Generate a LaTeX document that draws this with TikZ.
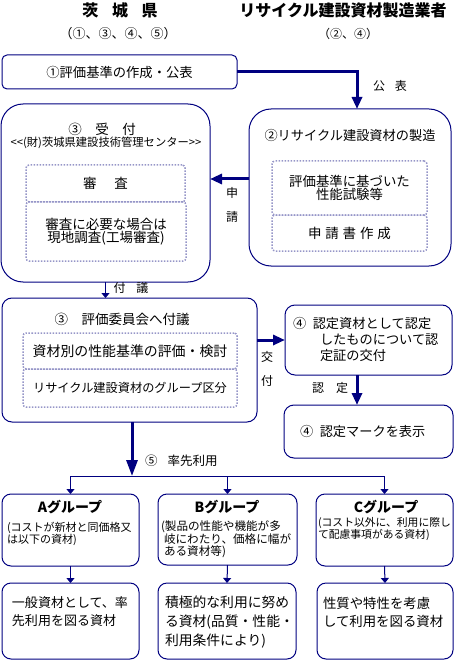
\documentclass[tikz,border=0pt]{standalone}
\usepackage{fontspec}
\setmainfont{Noto Sans CJK JP}
\usetikzlibrary{arrows.meta,calc}
\definecolor{navy}{RGB}{0,0,128}
\definecolor{dotc}{RGB}{150,150,200}
\newcommand{\jfs}[2]{\fontsize{#1pt}{#2pt}\selectfont}
\begin{document}
\begin{tikzpicture}[x=1pt,y=-1pt,
  box/.style={draw=navy, line width=1pt, rounded corners=#1, anchor=north west, inner sep=0pt, outer sep=0pt, align=center},
  box/.default=8pt,
  dbox/.style={draw=dotc, line width=1.5pt, dash pattern=on 1.5pt off 1.5pt, rounded corners=3pt, anchor=north west, inner sep=0pt, outer sep=0pt, align=center},
  txt/.style={inner sep=0pt, outer sep=0pt, text=black},
  bigarrow/.style={draw=navy, line width=3pt, -{Triangle[length=12pt,width=10pt]}},
  thinarrow/.style={draw=navy, line width=1pt, -{Triangle[length=5pt,width=8pt]}},
  thinline/.style={draw=navy, line width=1pt},
]
\useasboundingbox (0,0) rectangle (455,660);
% headers
\node[txt, font={\jfs{16}{16}\bfseries}] (h1) at (120,10) {茨\hspace{0.85em}城\hspace{0.85em}県};
\node[txt, font={\jfs{13}{13}}] (h1s) at (118,34) {（①、③、④、⑤）};
\node[txt, font={\jfs{16}{16}\bfseries}] (h2) at (343,10) {リサイクル建設資材製造業者};
\node[txt, font={\jfs{12}{12}}] (h2s) at (348,34) {（②、④）};
% box 1
\node[box=5pt, minimum width=235pt, minimum height=34pt, font={\jfs{13.3}{14}}] (b1) at (2,55) {①評価基準の作成・公表};
% box 3 (reception)
\node[box=22pt, minimum width=209pt, minimum height=178pt] (b3) at (1,104) {};
\node[txt, font={\jfs{13.5}{14}}] (t3) at (102,129) {③\quad 受\quad 付};
\node[txt, font={\jfs{11.3}{12}}] (t3s) at (106,143) {<\kern0pt<(財)茨城県建設技術管理センター>\kern0pt>};
\node[dbox, minimum width=159pt, minimum height=37pt, font={\jfs{13.5}{14}}] (d1) at (26,165) {審\hspace{1.3em}査};
\node[dbox, minimum width=160pt, minimum height=59pt, font={\jfs{13.5}{13.5}}] (d2) at (26,202) {審査に必要な場合は\\現地調査(工場審査)};
% box 2 (manufacturing)
\node[box=22pt, minimum width=202pt, minimum height=157pt] (b2) at (249,109) {};
\node[txt, font={\jfs{13.2}{14}}] (t2) at (350,135) {②リサイクル建設資材の製造};
\node[dbox, minimum width=155pt, minimum height=54pt, font={\jfs{13.4}{13.5}}] (d3) at (272,161) {評価基準に基づいた\\性能試験等};
\node[dbox, minimum width=155pt, minimum height=36pt, font={\jfs{13.5}{14}}] (d4) at (272,215) {申\hspace{.28em}請\hspace{.28em}書\hspace{.28em}作\hspace{.28em}成};
% box 4 (committee)
\node[box=10pt, minimum width=255pt, minimum height=124pt] (b4) at (2,298) {};
\node[txt, font={\jfs{13.5}{14}}] (t4) at (122,319) {③\quad 評価委員会へ付議};
\node[dbox, minimum width=214pt, minimum height=36pt, font={\jfs{13.9}{14}}] (d5) at (23,333) {資材別の性能基準の評価・検討};
\node[dbox, minimum width=214pt, minimum height=38pt, font={\jfs{12.2}{14}}] (d6) at (23,369) {リサイクル建設資材のグループ区分};
% box 5, 6
\node[box=10pt, minimum width=167pt, minimum height=70pt] (b5) at (285,305) {};
\node[txt, anchor=west, align=left, font={\jfs{13.2}{16}}] (t5) at (293,339) {④\hspace{.5em}認定資材として認定\\\hspace*{27pt}したものについて認\\\hspace*{27pt}定証の交付};
\node[box=10pt, minimum width=169pt, minimum height=53pt] (b6) at (284,405) {};
\node[txt, anchor=west, font={\jfs{13.2}{14}}] (t6) at (300,431) {④\hspace{.5em}認定マークを表示};
% group boxes
\node[box=9pt, minimum width=137pt, minimum height=72pt] (ga) at (2,494) {};
\node[box=9pt, minimum width=139pt, minimum height=71pt] (gb) at (158,494) {};
\node[box=9pt, minimum width=137pt, minimum height=72pt] (gc) at (316,494) {};
\node[txt, font={\jfs{14}{14}\bfseries}] (tA) at (70,507) {Aグループ};
\node[txt, font={\jfs{14}{14}\bfseries}] (tB) at (227,507) {Bグループ};
\node[txt, font={\jfs{14}{14}\bfseries}] (tC) at (386,507) {Cグループ};
\node[txt, anchor=west, align=left, font={\jfs{11}{12.5}}] (sA) at (7,534) {(コストが新材と同価格又\\は以下の資材)};
\node[txt, anchor=west, align=left, font={\jfs{11.6}{12}}] (sB) at (161,539) {(製品の性能や機能が多\\\hspace*{3pt}岐にわたり、価格に幅が\\\hspace*{3pt}ある資材等)};
\node[txt, anchor=west, align=left, font={\jfs{10.8}{12.5}}] (sC) at (318,529) {(コスト以外に、利用に際し\\て配慮事項がある資材)};
% result boxes
\node[box=9pt, minimum width=137pt, minimum height=76pt] (ra) at (2,583) {};
\node[box=9pt, minimum width=138pt, minimum height=76pt] (rb) at (158,583) {};
\node[box=9pt, minimum width=136pt, minimum height=76pt] (rc) at (317,583) {};
\node[txt, anchor=west, align=left, font={\jfs{13}{18}}] (xA) at (12,612) {一般資材として、率\\先利用を図る資材};
\node[txt, anchor=west, align=left, font={\jfs{13.8}{19}}] (xB) at (165,622) {積極的な利用に努め\\る資材(品質・性能・\\利用条件により)};
\node[txt, anchor=west, align=left, font={\jfs{13.4}{18}}] (xC) at (323,612) {性質や特性を考慮\\して利用を図る資材};
% labels
\node[txt, font={\jfs{12}{12}}] (l1) at (390,86) {公\hspace{0.8em}表};
\node[txt, align=center, font={\jfs{12}{24}}] (l2) at (232,205) {申\\請};
\node[txt, font={\jfs{12}{12}}] (l3) at (131,288) {付\hspace{0.9em}議};
\node[txt, align=center, font={\jfs{12}{24}}] (l4) at (267,369) {交\\付};
\node[txt, font={\jfs{12}{12}}] (l5) at (330,388) {認\hspace{1em}定};
\node[txt, anchor=west, font={\jfs{12.5}{13}}] (l6) at (145,461) {⑤\hspace{0.8em}率先利用};
% connectors
\coordinate (s0) at ($(b2.north)+(7,0)$);
\draw[bigarrow] (b1.east) -| (s0);
\coordinate (s1) at ([yshift=8.5pt]b2.west);
\draw[bigarrow] (s1) -- (s1 -| b3.east);
\draw[thinarrow] (b3.south) -- (b3.south |- b4.north);
\coordinate (s2) at ([yshift=20pt]b4.east);
\draw[bigarrow] (s2) -- (s2 -| b5.west);
\coordinate (s3) at ([xshift=-11.5pt]b5.south);
\draw[bigarrow] (s3) -- (s3 |- b6.north);
\coordinate (s4) at ([xshift=2.5pt]b4.south);
\coordinate (j) at (132,476);
\draw[bigarrow, -{Triangle[length=16pt,width=11pt]}] (s4) -- (j);
\draw[thinline] (ga.north |- j) -- (gc.north |- j);
\draw[thinarrow] (ga.north |- j) -- (ga.north);
\draw[thinarrow] (gb.north |- j) -- (gb.north);
\draw[thinarrow] (gc.north |- j) -- (gc.north);
\draw[thinarrow] (ga.south) -- (ra.north);
\draw[thinarrow] (gb.south) -- (rb.north);
\draw[thinarrow] (gc.south) -- (rc.north);
\end{tikzpicture}
\end{document}
